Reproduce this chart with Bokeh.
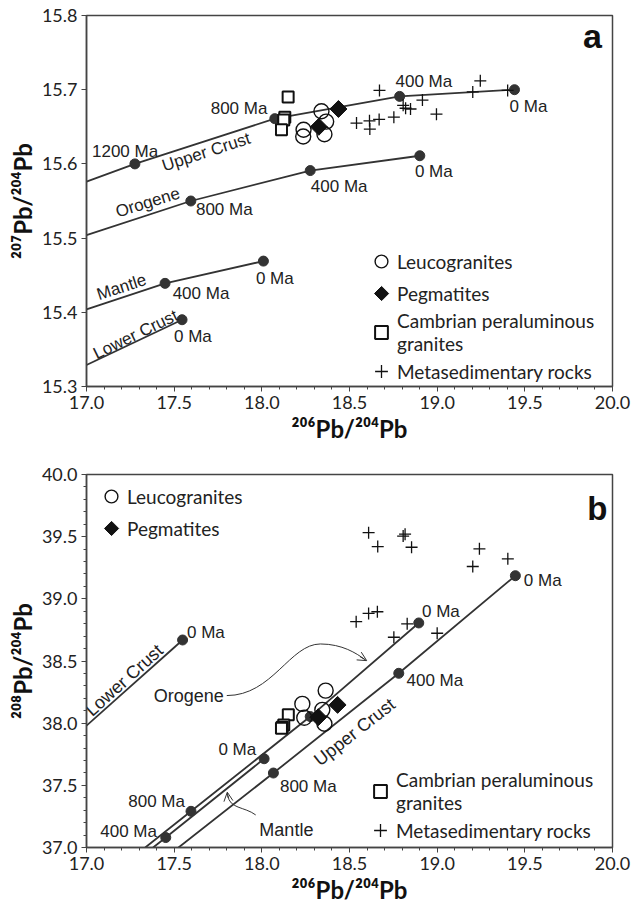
import math
from bokeh.plotting import figure
from bokeh.layouts import column
from bokeh.models import (Range1d, FixedTicker, PrintfTickFormatter, Legend, LegendItem,
                          Label, Arrow, OpenHead)
from bokeh.core.properties import value
from bokeh.embed import file_html
from bokeh.resources import INLINE

# ------------------------------------------------------------------ panel a data
leuco_a_x = [18.340, 18.367, 18.238, 18.236, 18.357]
leuco_a_y = [15.671, 15.657, 15.646, 15.637, 15.640]
pegm_a_x = [18.437, 18.325]
pegm_a_y = [15.674, 15.650]
camb_a_x = [18.150, 18.131, 18.125, 18.112]
camb_a_y = [15.690, 15.663, 15.659, 15.646]
meta_a_x = [18.671, 18.540, 18.614, 18.616, 18.669, 18.753, 18.806, 18.820, 18.848,
            18.916, 18.996, 19.203, 19.246, 19.402]
meta_a_y = [15.699, 15.655, 15.658, 15.647, 15.660, 15.663, 15.679, 15.675, 15.674,
            15.686, 15.667, 15.697, 15.712, 15.699]

# model evolution curves (first point = where the curve leaves the frame)
uc_a_x = [17.0, 17.276, 18.074, 18.786, 19.441]
uc_a_y = [15.576, 15.600, 15.661, 15.691, 15.700]
oro_a_x = [17.0, 17.595, 18.276, 18.901]
oro_a_y = [15.504, 15.550, 15.591, 15.611]
man_a_x = [17.0, 17.448, 18.009]
man_a_y = [15.404, 15.439, 15.469]
lc_a_x = [17.0, 17.545]
lc_a_y = [15.329, 15.390]

# age labels (text, position)
age_a_text = ["0 Ma", "400 Ma", "800 Ma", "1200 Ma",
              "0 Ma", "400 Ma", "800 Ma",
              "0 Ma", "400 Ma",
              "0 Ma"]
age_a_x = [19.521, 18.924, 17.870, 17.220, 18.981, 18.441, 17.786, 18.074, 17.653, 17.607]
age_a_y = [15.678, 15.711, 15.675, 15.617, 15.590, 15.570, 15.538, 15.446, 15.425, 15.367]
name_a_text = ["Upper Crust", "Orogene", "Mantle", "Lower Crust"]
name_a_x = [17.683, 17.349, 17.200, 17.280]
name_a_y = [15.616, 15.548, 15.434, 15.370]
name_a_angle = [18, 17, 18, 26]

# ------------------------------------------------------------------ panel b data
leuco_b_x = [18.231, 18.242, 18.364, 18.345, 18.357]
leuco_b_y = [38.155, 38.043, 38.262, 38.107, 37.995]
pegm_b_x = [18.432, 18.322]
pegm_b_y = [38.147, 38.048]
camb_b_x = [18.151, 18.125, 18.116, 18.112]
camb_b_y = [38.067, 37.985, 37.968, 37.960]
meta_b_x = [18.609, 18.661, 18.806, 18.817, 18.854, 19.241, 19.203, 19.403,
            18.538, 18.609, 18.659, 18.753, 18.829, 19.000]
meta_b_y = [39.532, 39.420, 39.505, 39.520, 39.415, 39.402, 39.260, 39.322,
            38.816, 38.883, 38.896, 38.691, 38.799, 38.723]

uc_b_x = [17.525, 18.066, 18.781, 19.446]
uc_b_y = [37.0, 37.599, 38.401, 39.186]
oro_b_x = [17.335, 17.596, 18.276, 18.895]
oro_b_y = [37.0, 37.291, 38.053, 38.806]
man_b_x = [17.380, 17.452, 18.013]
man_b_y = [37.0, 37.080, 37.714]
lc_b_x = [17.0, 17.548]
lc_b_y = [37.980, 38.669]

age_b_text = ["0 Ma", "400 Ma", "800 Ma", "0 Ma", "800 Ma", "0 Ma", "400 Ma", "0 Ma"]
age_b_x = [19.602, 18.987, 18.265, 19.021, 17.400, 17.860, 17.240, 17.681]
age_b_y = [39.151, 38.342, 37.492, 38.902, 37.366, 37.786, 37.126, 38.728]
name_b_text = ["Upper Crust", "Lower Crust"]
name_b_x = [18.529, 17.215]
name_b_y = [37.928, 38.345]
name_b_angle = [38, 42]
callout_b_text = ["Orogene", "Mantle"]
callout_b_x = [17.583, 18.140]
callout_b_y = [38.222, 37.144]

# where the (rotated-square) Pegmatites key sits inside each legend
peg_key_a = (18.683, 15.4253)
peg_key_b = (17.143, 39.566)

x_ticks = [17.0, 17.5, 18.0, 18.5, 19.0, 19.5, 20.0]
x_minor = [17.0 + 0.1 * i for i in range(31)]
ya_ticks = [15.3, 15.4, 15.5, 15.6, 15.7, 15.8]
yb_ticks = [37.0, 37.5, 38.0, 38.5, 39.0, 39.5, 40.0]
yb_minor = [37.0 + 0.1 * i for i in range(31)]

LINE = "#333333"
AX = "#444444"
TXT = "#222222"
ANN_FONT = value("Liberation Sans")


def style(p, yt, ymin, ylabel):
    p.outline_line_color = AX
    p.outline_line_width = 1.5
    p.xgrid.visible = False
    p.ygrid.visible = False
    p.xaxis.ticker = FixedTicker(ticks=x_ticks, minor_ticks=x_minor)
    p.yaxis.ticker = FixedTicker(ticks=yt, minor_ticks=ymin)
    for ax in (p.xaxis[0], p.yaxis[0]):
        ax.formatter = PrintfTickFormatter(format="%.1f")
        ax.axis_line_color = AX
        ax.axis_line_width = 1.5
        ax.major_tick_line_color = AX
        ax.minor_tick_line_color = AX
        ax.major_tick_in = 0
        ax.major_tick_out = 5
        ax.minor_tick_in = 0
        ax.minor_tick_out = 3
        ax.major_label_text_font = "Lato"
        ax.major_label_text_font_size = "18px"
        ax.major_label_text_color = TXT
        ax.major_label_standoff = 4
        ax.axis_label_text_font = "Lato"
        ax.axis_label_text_font_style = "bold"
        ax.axis_label_text_font_size = "24px"
        ax.axis_label_text_color = "#111111"
        ax.axis_label_standoff = 2
    p.xaxis.axis_label = "²⁰⁶Pb/²⁰⁴Pb"
    p.yaxis.axis_label = ylabel


def model(p, xs, ys):
    p.line(xs, ys, line_color=LINE, line_width=1.8)
    p.scatter(xs[1:], ys[1:], marker="circle", size=10, fill_color=LINE, line_color=LINE)


def samples(p, lx, ly, px, py, cx, cy, mx, my, key):
    r_meta = p.scatter(mx, my, marker="cross", size=12, line_color="#111111", line_width=1.3)
    r_camb = p.scatter(cx, cy, marker="square", size=11, fill_color="white",
                       line_color="#111111", line_width=2)
    r_leuco = p.scatter(lx, ly, marker="circle", size=15, fill_alpha=0,
                        line_color="#111111", line_width=1.4)
    p.scatter(px, py, marker="square", size=12, angle=math.pi / 4,
              fill_color="#111111", line_color="#111111")
    # legend key for pegmatites (legend draws markers unrotated, so place it ourselves)
    p.scatter([key[0]], [key[1]], marker="square", size=10, angle=math.pi / 4,
              fill_color="#111111", line_color="#111111")
    r_peg_dummy = p.scatter([], [], marker="square", fill_alpha=0, line_alpha=0)
    return r_leuco, r_peg_dummy, r_camb, r_meta


def legend(items, loc):
    lg = Legend(items=items, location=loc)
    lg.background_fill_alpha = 0
    lg.border_line_alpha = 0
    lg.padding = 0
    lg.margin = 0
    lg.spacing = -1
    lg.glyph_width = 32
    lg.glyph_height = 32
    lg.label_height = 20
    lg.label_standoff = 0
    lg.label_text_font = "Lato"
    lg.label_text_font_size = "19px"
    lg.label_text_color = TXT
    return lg


# ------------------------------------------------------------------ panel a
pa = figure(width=632, height=448, x_range=Range1d(17, 20), y_range=Range1d(15.3, 15.8),
            output_backend="svg", toolbar_location=None,
            min_border_left=86, min_border_right=20, min_border_top=15, min_border_bottom=62)
style(pa, ya_ticks, [], "²⁰⁷Pb/²⁰⁴Pb")
for xs, ys in ((uc_a_x, uc_a_y), (oro_a_x, oro_a_y), (man_a_x, man_a_y), (lc_a_x, lc_a_y)):
    model(pa, xs, ys)
ra = samples(pa, leuco_a_x, leuco_a_y, pegm_a_x, pegm_a_y, camb_a_x, camb_a_y,
             meta_a_x, meta_a_y, peg_key_a)
pa.text(age_a_x, age_a_y, text=age_a_text, text_font=ANN_FONT, text_font_size="17px",
        text_color=TXT, text_align="center", text_baseline="middle")
pa.text(name_a_x, name_a_y, text=name_a_text, angle=name_a_angle, angle_units="deg",
        text_font=ANN_FONT, text_font_size="17px", text_color=TXT,
        text_align="center", text_baseline="middle")
pa.add_layout(Label(x=19.886, y=15.772, text="a", text_font="Liberation Sans",
                    text_font_style="bold", text_font_size="34px", text_color="#111111",
                    text_align="center", text_baseline="middle"))
pa.add_layout(legend([
    LegendItem(label="Leucogranites", renderers=[ra[0]]),
    LegendItem(label="Pegmatites", renderers=[ra[1]]),
    LegendItem(label="Cambrian peraluminous\ngranites", renderers=[ra[2]]),
    LegendItem(label="Metasedimentary rocks", renderers=[ra[3]]),
], (279, -1)))

# ------------------------------------------------------------------ panel b
pb = figure(width=632, height=460, x_range=Range1d(17, 20), y_range=Range1d(37, 40),
            output_backend="svg", toolbar_location=None,
            min_border_left=86, min_border_right=20, min_border_top=26, min_border_bottom=61)
style(pb, yb_ticks, yb_minor, "²⁰⁸Pb/²⁰⁴Pb")
for xs, ys in ((uc_b_x, uc_b_y), (oro_b_x, oro_b_y), (man_b_x, man_b_y), (lc_b_x, lc_b_y)):
    model(pb, xs, ys)
rb = samples(pb, leuco_b_x, leuco_b_y, pegm_b_x, pegm_b_y, camb_b_x, camb_b_y,
             meta_b_x, meta_b_y, peg_key_b)
pb.text(age_b_x, age_b_y, text=age_b_text, text_font=ANN_FONT, text_font_size="17px",
        text_color=TXT, text_align="center", text_baseline="middle")
pb.text(name_b_x, name_b_y, text=name_b_text, angle=name_b_angle, angle_units="deg",
        text_font=ANN_FONT, text_font_size="18px", text_color=TXT,
        text_align="center", text_baseline="middle")
pb.text(callout_b_x, callout_b_y, text=callout_b_text, text_font=ANN_FONT,
        text_font_size="18px", text_color=TXT, text_align="center", text_baseline="middle")
# curved call-out arrows
pb.bezier(x0=[17.80, 18.334], y0=[38.222, 38.637], x1=[18.334, 18.585], y1=[38.637, 38.515],
          cx0=[18.06, 18.46], cy0=[38.222, 38.637], cx1=[18.16, 18.54], cy1=[38.637, 38.56],
          line_color=LINE, line_width=1)
pb.add_layout(Arrow(end=OpenHead(size=9, line_color=LINE, line_width=1),
                    x_start=18.56, y_start=38.535, x_end=18.598, y_end=38.503,
                    line_color=LINE, line_width=1))
pb.bezier(x0=[17.965], y0=[37.262], x1=[17.806], y1=[37.42],
          cx0=[17.90], cy0=[37.33], cx1=[17.815], cy1=[37.31],
          line_color=LINE, line_width=1)
pb.add_layout(Arrow(end=OpenHead(size=9, line_color=LINE, line_width=1),
                    x_start=17.807, y_start=37.40, x_end=17.803, y_end=37.445,
                    line_color=LINE, line_width=1))
pb.add_layout(Label(x=19.914, y=39.726, text="b", text_font="Liberation Sans",
                    text_font_style="bold", text_font_size="33px", text_color="#111111",
                    text_align="center", text_baseline="middle"))
pb.add_layout(legend([
    LegendItem(label="Leucogranites", renderers=[rb[0]]),
    LegendItem(label="Pegmatites", renderers=[rb[1]]),
], (9, 303)))
pb.add_layout(legend([
    LegendItem(label="Cambrian peraluminous\ngranites", renderers=[rb[2]]),
    LegendItem(label="Metasedimentary rocks", renderers=[rb[3]]),
], (278, 1)))

layout = column(pa, pb, spacing=0)
open("out.html", "w").write(file_html(layout, INLINE))
